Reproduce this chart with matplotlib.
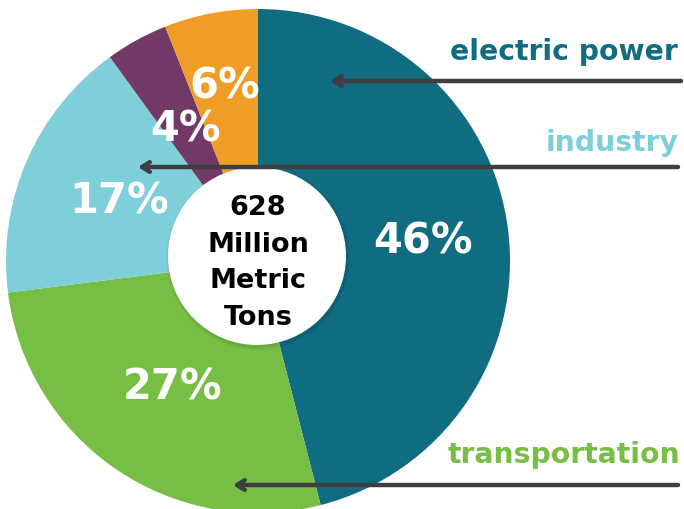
import matplotlib
matplotlib.use("Agg")
import matplotlib.pyplot as plt
import numpy as np
from matplotlib.patches import Circle

# ---- data ----
categories = ["electric power", "transportation", "industry", "other A", "other B"]
shares = [46, 27, 17, 4, 6]
pct_labels = ["46%", "27%", "17%", "4%", "6%"]
colors = ["#106C80", "#76BF44", "#7ECFD9", "#733966", "#EF9D24"]
center_lines = ["628", "Million", "Metric", "Tons"]
side_labels = ["electric power", "industry", "transportation"]
side_colors = ["#106C80", "#7ECFD9", "#76BF44"]

W, H = 684, 510
fig = plt.figure(figsize=(W / 100, H / 100), dpi=100)
ax = fig.add_axes([0, 0, 1, 1])
ax.set_xlim(0, W)
ax.set_ylim(0, H)
ax.set_aspect("equal")
ax.axis("off")

def Y(py):
    return H - py

cx, cy, R = 258, Y(262), 252

wedges, _ = ax.pie(shares, colors=colors, startangle=90, counterclock=False,
                   center=(cx, cy), radius=R, frame=True,
                   wedgeprops=dict(linewidth=0, edgecolor="none"))
ax.set_xlim(0, W)
ax.set_ylim(0, H)
ax.axis("off")

# percentage labels
dists = [0.66, 0.60, 0.60, 0.60, 0.71]
for w, lab, d in zip(wedges, pct_labels, dists):
    th = np.deg2rad((w.theta1 + w.theta2) / 2)
    x = cx + d * R * np.cos(th)
    y = cy + d * R * np.sin(th)
    ax.text(x, y, lab, ha="center", va="center", color="white",
            fontsize=30, fontweight="bold",
            family=["DejaVu Sans"])

# center circle with soft shadow
for i, a in enumerate([0.03, 0.03, 0.04]):
    ax.add_patch(Circle((257 + 1, Y(257) - 2), 89 + 3 - i, color="black",
                        alpha=a, lw=0, zorder=3))
ax.add_patch(Circle((257, Y(257)), 89, color="white", lw=0, zorder=4))
line_y = [205, 242, 278, 315]
for txt, py in zip(center_lines, line_y):
    ax.text(258, Y(py), txt, ha="center", va="center_baseline",
            fontsize=19.5, fontweight="bold", color="black",
            family=["DejaVu Sans"], zorder=5)

# side labels
label_pos = [(678, 52), (678, 143), (680, 455)]
for lab, col, (x, py) in zip(side_labels, side_colors, label_pos):
    ax.text(x, Y(py), lab, ha="right", va="center", color=col,
            fontsize=20.3, fontweight="bold", family=["DejaVu Sans"],
            zorder=6)

# arrows
arrows = [((681, 82), (330, 82)), ((678, 168), (138, 168)), ((678, 486), (233, 486))]
for (sx, sy), (tx, ty) in arrows:
    ax.annotate("", xy=(tx, Y(ty)), xytext=(sx, Y(sy)),
                arrowprops=dict(arrowstyle="->,head_length=0.55,head_width=0.35",
                                lw=3.2, color="#3E3D40", capstyle="round",
                                shrinkA=0, shrinkB=0),
                zorder=7)

fig.savefig("out.png", dpi=100)
